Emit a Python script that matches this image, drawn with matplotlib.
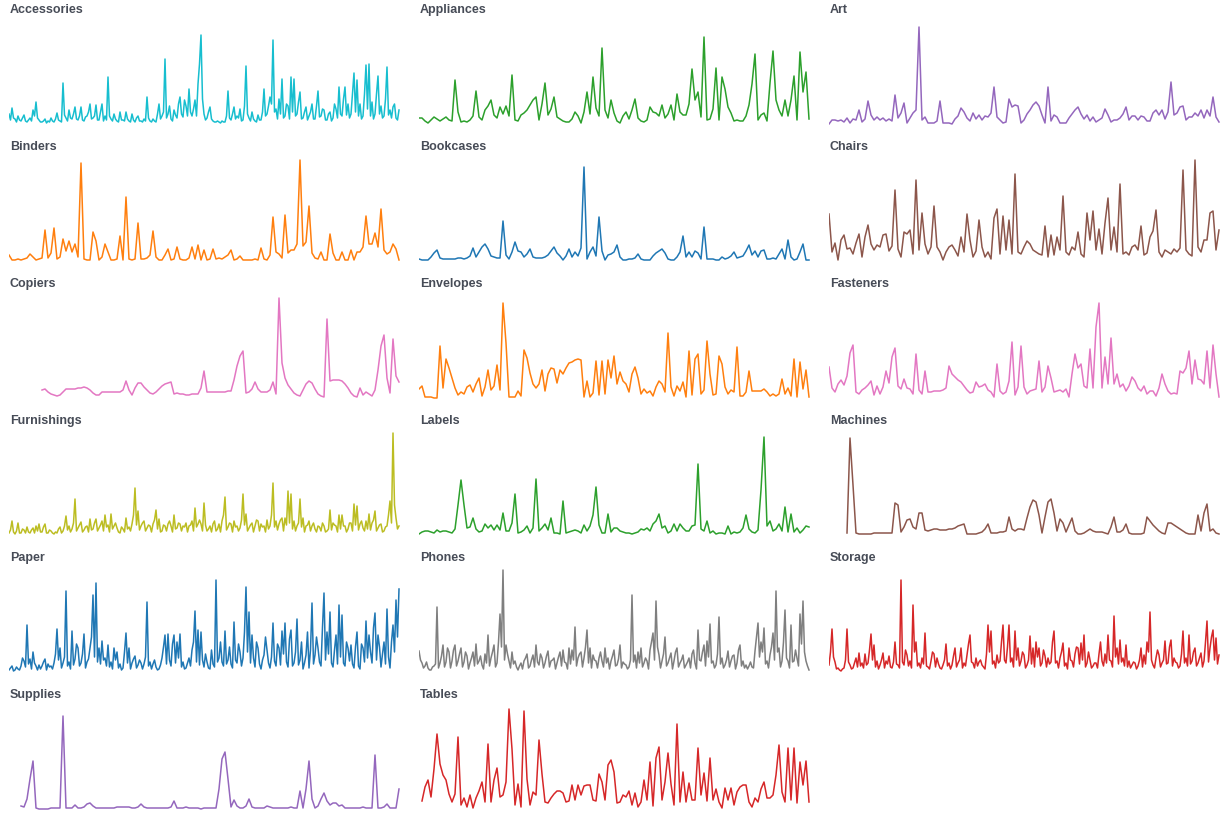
import matplotlib.pyplot as plt
import numpy as np

# Sales by sub-category on a shared time axis (slot 0 = first order date,
# slot ~130.7 = last order date). Dense series are sampled twice as often.
# Values are relative sales, read off each small multiple.

accessories = [10, 4, 16, 6, 5, 2, 8, 4, 3, 6, 9, 3, 2, 4, 6, 3, 14, 8, 22, 6,
               4, 2, 2, 3, 5, 1, 3, 2, 6, 3, 2, 5, 11, 4, 3, 2, 41, 9, 6, 3,
               14, 6, 5, 10, 17, 5, 4, 8, 17, 4, 3, 7, 8, 12, 20, 5, 6, 8, 19, 4,
               4, 12, 20, 3, 8, 4, 47, 8, 5, 3, 10, 5, 3, 2, 12, 4, 4, 3, 12, 5,
               3, 2, 10, 4, 2, 6, 8, 3, 3, 2, 5, 3, 27, 6, 3, 2, 5, 3, 2, 10,
               20, 5, 8, 12, 65, 6, 10, 18, 5, 3, 14, 9, 6, 20, 27, 10, 7, 24, 18, 8,
               35, 12, 8, 15, 24, 8, 40, 60, 89, 25, 10, 4, 6, 12, 17, 5, 3, 2, 2, 3,
               2, 1, 3, 2, 2, 8, 33, 6, 4, 10, 17, 5, 8, 6, 15, 3, 4, 18, 58, 10,
               6, 3, 12, 5, 3, 2, 9, 4, 4, 12, 35, 8, 10, 18, 27, 20, 84, 12, 15, 5,
               25, 10, 45, 6, 8, 20, 18, 5, 47, 12, 45, 8, 10, 22, 32, 5, 6, 12, 17, 4,
               8, 12, 20, 5, 5, 18, 33, 7, 8, 15, 14, 4, 4, 10, 12, 3, 6, 20, 15, 6,
               37, 10, 8, 25, 37, 9, 20, 6, 10, 30, 51, 12, 44, 8, 20, 5, 8, 30, 59, 15,
               60, 8, 22, 5, 10, 30, 48, 10, 18, 6, 8, 25, 57, 9, 14, 6, 17, 20, 6, 4, 14]

appliances = [6, 6, 3, 1, 4, 7, 5, 3, 5, 7,
              4, 3, 44, 12, 2, 3, 2, 4, 8, 33,
              7, 4, 14, 18, 24, 9, 6, 17, 10, 18,
              8, 49, 4, 3, 9, 11, 14, 19, 24, 27,
              4, 20, 41, 9, 15, 27, 7, 5, 3, 2,
              2, 5, 12, 8, 1, 12, 32, 10, 47, 16,
              8, 76, 14, 6, 24, 11, 3, 1, 8, 12,
              5, 14, 25, 6, 3, 2, 4, 17, 12, 11,
              8, 19, 6, 10, 19, 4, 30, 12, 9, 9,
              20, 55, 24, 32, 7, 87, 4, 5, 15, 56,
              4, 47, 35, 17, 11, 3, 4, 3, 3, 8,
              19, 40, 70, 4, 9, 11, 3, 41, 73, 24,
              14, 8, 24, 8, 24, 48, 4, 72, 32, 52, 5]

art = [0, 4, 4, 3, 4, 2, 6, 1, 5, 4,
       14, 2, 5, 23, 9, 4, 7, 4, 6, 3,
       5, 3, 29, 6, 11, 21, 1, 6, 11, 14,
       97, 4, 7, 1, 1, 1, 3, 23, 1, 1,
       1, 0, 5, 8, 16, 12, 6, 3, 11, 5,
       9, 4, 8, 7, 11, 37, 7, 4, 1, 2,
       25, 17, 19, 18, 1, 4, 10, 14, 19, 22,
       18, 9, 1, 37, 3, 9, 7, 1, 1, 1,
       6, 10, 14, 17, 10, 5, 9, 3, 7, 2,
       4, 6, 15, 9, 2, 4, 4, 6, 10, 17,
       4, 8, 8, 4, 8, 7, 3, 3, 11, 14,
       9, 14, 5, 12, 42, 9, 11, 17, 18, 4,
       7, 7, 11, 8, 14, 6, 14, 8, 27, 7, 2]

binders = [6, 1, 1, 2, 1, 2, 3, 7, 4, 1,
           2, 3, 31, 3, 8, 33, 2, 4, 22, 10,
           20, 9, 17, 4, 98, 2, 1, 1, 29, 20,
           1, 4, 17, 9, 1, 1, 2, 25, 1, 64,
           2, 1, 2, 38, 2, 2, 3, 6, 30, 4,
           1, 1, 6, 12, 1, 2, 14, 2, 1, 1,
           3, 14, 2, 16, 1, 11, 1, 2, 12, 2,
           3, 2, 4, 6, 11, 1, 2, 5, 1, 1,
           1, 1, 2, 1, 13, 2, 1, 6, 44, 9,
           7, 3, 46, 8, 11, 11, 17, 101, 15, 19,
           55, 8, 3, 2, 9, 1, 1, 27, 8, 1,
           1, 9, 1, 1, 11, 1, 9, 9, 14, 45,
           17, 17, 28, 14, 52, 11, 7, 9, 17, 12, 1]

bookcases = [2, 1, 1, 1, 4, 8, 11, 3, 2, 2,
             2, 2, 2, 3, 3, 2, 3, 5, 13, 4,
             9, 14, 17, 12, 5, 4, 3, 3, 40, 6,
             2, 9, 19, 10, 9, 4, 7, 12, 4, 3,
             3, 3, 4, 6, 10, 14, 8, 5, 1, 5,
             12, 4, 9, 5, 13, 94, 2, 9, 14, 5,
             44, 10, 1, 6, 7, 9, 16, 4, 1, 1,
             2, 2, 3, 7, 2, 1, 1, 1, 5, 8,
             10, 12, 8, 2, 1, 1, 4, 9, 25, 4,
             9, 4, 10, 8, 2, 34, 2, 2, 2, 1,
             1, 4, 2, 3, 5, 9, 3, 4, 5, 10,
             16, 6, 10, 4, 10, 11, 2, 2, 3, 2,
             7, 12, 2, 21, 4, 1, 2, 9, 17, 1, 1]

chairs = [47, 9, 18, 1, 21, 26, 12, 13, 7, 18,
          27, 4, 24, 36, 17, 11, 16, 14, 26, 27,
          10, 15, 71, 12, 4, 29, 27, 31, 7, 81,
          11, 48, 17, 7, 14, 55, 14, 9, 1, 9,
          14, 16, 11, 5, 24, 9, 47, 21, 4, 10,
          41, 14, 4, 9, 2, 43, 52, 7, 45, 11,
          41, 7, 87, 9, 7, 14, 20, 17, 11, 9,
          7, 6, 35, 4, 26, 6, 24, 11, 65, 9,
          6, 14, 11, 29, 7, 4, 48, 21, 50, 11,
          32, 7, 38, 63, 11, 34, 9, 77, 7, 9,
          6, 14, 16, 11, 35, 6, 8, 24, 30, 51,
          9, 4, 11, 9, 7, 12, 9, 13, 91, 11,
          7, 5, 101, 14, 9, 21, 21, 48, 50, 11, 31]

copiers = [8, 9, 6, 4, 3, 2, 3, 6, 9, 9,
           9, 9, 10, 10, 11, 10, 8, 5, 3, 3,
           6, 6, 6, 6, 6, 6, 6, 8, 17, 8,
           3, 10, 15, 15, 11, 8, 5, 4, 6, 9,
           12, 14, 15, 16, 4, 5, 4, 4, 3, 3,
           4, 4, 4, 10, 27, 6, 6, 6, 6, 6,
           6, 6, 7, 7, 18, 32, 42, 47, 5, 6,
           9, 16, 9, 6, 6, 6, 8, 16, 4, 100,
           35, 20, 13, 9, 5, 3, 2, 8, 14, 17,
           15, 9, 4, 2, 1, 79, 17, 18, 18, 18,
           17, 14, 10, 5, 2, 1, 10, 3, 6, 4,
           2, 8, 28, 52, 63, 20, 5, 59, 22, 16]

envelopes = [9, 12, 1, 1, 1, 0, 0, 52, 10, 39,
             30, 20, 10, 3, 6, 4, 11, 13, 6, 14,
             20, 2, 11, 28, 8, 12, 33, 8, 95, 55,
             1, 1, 1, 7, 2, 48, 40, 25, 14, 10,
             14, 28, 7, 24, 30, 29, 15, 28, 24, 30,
             35, 36, 38, 39, 38, 1, 17, 1, 5, 37,
             3, 37, 4, 38, 20, 42, 14, 26, 17, 14,
             6, 24, 31, 20, 4, 9, 5, 7, 2, 11,
             17, 14, 6, 65, 11, 2, 12, 7, 16, 1,
             47, 3, 39, 44, 4, 8, 57, 24, 3, 4,
             42, 34, 11, 4, 8, 6, 51, 2, 2, 6,
             27, 7, 7, 7, 7, 9, 6, 2, 4, 2,
             4, 19, 4, 10, 2, 39, 1, 36, 9, 28, 1]

fasteners = [31, 10, 6, 14, 18, 13, 22, 45, 53, 6,
             4, 8, 10, 13, 17, 3, 12, 4, 11, 27,
             15, 41, 50, 12, 9, 19, 10, 9, 4, 44,
             8, 4, 27, 6, 6, 7, 7, 7, 8, 10,
             32, 24, 21, 18, 16, 12, 8, 5, 6, 16,
             11, 12, 14, 8, 6, 1, 34, 7, 4, 6,
             17, 56, 3, 11, 52, 11, 4, 7, 8, 9,
             37, 6, 11, 32, 20, 6, 7, 8, 6, 9,
             1, 24, 44, 30, 34, 12, 10, 49, 10, 71,
             95, 10, 41, 14, 60, 14, 24, 11, 14, 7,
             12, 21, 17, 10, 7, 12, 4, 7, 7, 2,
             10, 24, 14, 7, 4, 5, 4, 27, 25, 30,
             47, 14, 38, 19, 18, 14, 47, 10, 53, 24, 1]

furnishings = [2, 5, 14, 3, 1, 4, 12, 2, 2, 6, 5, 2, 8, 3, 2, 5, 7, 2, 9, 4,
               11, 3, 3, 8, 11, 2, 2, 5, 4, 2, 1, 3, 2, 6, 8, 2, 4, 9, 19, 5,
               9, 3, 6, 12, 36, 4, 7, 10, 13, 3, 5, 8, 9, 3, 16, 5, 6, 12, 16, 4,
               7, 10, 14, 4, 20, 8, 10, 3, 21, 6, 9, 12, 7, 3, 2, 8, 6, 3, 17, 6,
               8, 4, 11, 20, 47, 10, 24, 5, 9, 12, 14, 4, 7, 10, 9, 3, 11, 15, 25, 6,
               16, 3, 4, 10, 9, 4, 11, 14, 9, 3, 20, 6, 7, 12, 11, 4, 9, 8, 12, 3,
               9, 10, 14, 4, 27, 8, 11, 15, 11, 4, 32, 10, 4, 6, 9, 3, 11, 14, 4, 6,
               11, 3, 14, 20, 38, 5, 8, 12, 11, 3, 14, 8, 9, 4, 7, 15, 41, 10, 21, 4,
               7, 10, 12, 3, 9, 15, 14, 4, 11, 8, 9, 3, 15, 6, 9, 20, 52, 8, 14, 5,
               11, 15, 17, 4, 17, 10, 44, 12, 41, 6, 14, 4, 9, 12, 36, 8, 17, 3, 9, 10,
               14, 4, 9, 12, 6, 3, 9, 8, 4, 12, 9, 3, 4, 6, 25, 5, 12, 10, 9, 3,
               20, 6, 20, 9, 9, 3, 6, 12, 12, 4, 31, 10, 29, 5, 11, 14, 7, 4, 14, 6,
               21, 5, 12, 15, 24, 4, 7, 10, 11, 3, 4, 8, 9, 20, 34, 12, 102, 30, 17, 6, 9]

labels = [1, 3, 4, 4, 3, 2, 5, 3, 4, 4,
          3, 2, 6, 30, 55, 30, 7, 8, 17, 6,
          3, 4, 11, 7, 10, 5, 10, 5, 22, 4,
          4, 12, 41, 2, 3, 5, 9, 2, 7, 56,
          4, 7, 11, 5, 17, 2, 2, 1, 34, 2,
          3, 4, 5, 4, 2, 10, 4, 9, 20, 48,
          10, 2, 2, 21, 3, 7, 7, 4, 3, 2,
          2, 1, 2, 3, 6, 5, 7, 4, 11, 14,
          21, 7, 9, 2, 4, 11, 4, 11, 7, 4,
          4, 9, 10, 71, 6, 4, 14, 2, 4, 1,
          2, 2, 1, 9, 1, 3, 2, 3, 7, 20,
          6, 3, 2, 5, 45, 98, 9, 14, 4, 6,
          11, 4, 28, 3, 21, 3, 7, 2, 5, 9, 8]

machines = [2, 97, 50, 2, 1, 1, 1, 1, 1, 2,
            2, 2, 2, 2, 2, 2, 32, 30, 3, 8,
            15, 16, 8, 6, 22, 22, 5, 4, 5, 6,
            6, 5, 5, 5, 6, 6, 7, 9, 10, 11,
            1, 1, 1, 1, 2, 3, 6, 11, 2, 2,
            2, 3, 3, 4, 18, 6, 4, 6, 6, 5,
            17, 28, 35, 33, 20, 2, 18, 33, 36, 22,
            4, 16, 12, 3, 10, 17, 4, 1, 1, 2,
            4, 6, 4, 3, 3, 3, 2, 1, 8, 18,
            3, 3, 5, 11, 2, 1, 1, 1, 1, 2,
            18, 14, 10, 7, 4, 2, 1, 12, 12, 10,
            8, 6, 4, 2, 1, 1, 1, 20, 4, 22,
            31, 4, 6, 2, 1]

paper = [2, 4, 6, 1, 2, 5, 3, 2, 6, 14, 11, 5, 47, 8, 13, 3, 20, 9, 6, 2,
         7, 3, 6, 10, 13, 2, 8, 5, 6, 3, 9, 18, 43, 12, 24, 4, 9, 15, 81, 6,
         10, 3, 41, 7, 13, 28, 24, 6, 9, 18, 38, 4, 10, 13, 24, 35, 77, 15, 89, 10,
         24, 8, 31, 12, 14, 6, 27, 5, 10, 3, 24, 12, 20, 4, 8, 2, 4, 20, 39, 9,
         24, 3, 9, 13, 16, 4, 7, 12, 9, 3, 8, 15, 70, 6, 10, 3, 8, 12, 5, 2,
         3, 7, 14, 25, 37, 8, 38, 12, 6, 28, 37, 9, 30, 14, 38, 5, 10, 3, 4, 9,
         14, 6, 22, 30, 61, 10, 42, 7, 40, 12, 5, 18, 10, 4, 3, 22, 8, 5, 92, 10,
         14, 30, 10, 6, 41, 8, 12, 25, 8, 4, 50, 12, 9, 28, 20, 6, 14, 40, 85, 20,
         60, 9, 37, 14, 5, 30, 24, 8, 3, 12, 17, 35, 22, 9, 4, 15, 49, 11, 6, 28,
         24, 7, 41, 18, 49, 10, 5, 33, 42, 6, 9, 20, 53, 7, 12, 30, 3, 9, 17, 40,
         4, 22, 69, 8, 17, 35, 24, 10, 6, 45, 79, 12, 40, 18, 60, 9, 5, 22, 37, 8,
         67, 15, 57, 9, 6, 30, 24, 11, 27, 8, 4, 25, 40, 6, 3, 28, 24, 10, 51, 14,
         37, 20, 9, 44, 59, 12, 37, 25, 5, 18, 30, 8, 63, 15, 4, 30, 47, 20, 72, 35, 83]

phones = [21, 12, 9, 4, 6, 10, 4, 2, 2, 5, 6, 8, 65, 4, 9, 16, 27, 5, 10, 24,
          20, 4, 11, 22, 27, 6, 11, 18, 24, 5, 10, 20, 16, 3, 9, 14, 20, 6, 28, 8,
          11, 16, 7, 3, 18, 9, 37, 6, 14, 20, 27, 5, 9, 30, 58, 25, 102, 12, 27, 18,
          11, 4, 20, 8, 11, 5, 2, 6, 9, 3, 11, 14, 18, 4, 6, 12, 17, 5, 27, 10,
          7, 18, 14, 4, 9, 16, 21, 5, 11, 12, 14, 3, 9, 15, 20, 6, 22, 10, 9, 3,
          24, 8, 22, 12, 45, 6, 14, 18, 20, 5, 14, 25, 42, 9, 24, 4, 17, 12, 11, 4,
          14, 20, 11, 5, 24, 9, 14, 3, 11, 16, 22, 6, 7, 13, 27, 4, 10, 8, 7, 3,
          5, 12, 77, 10, 17, 4, 20, 9, 24, 5, 9, 14, 11, 3, 22, 30, 39, 12, 71, 25,
          17, 4, 11, 18, 35, 6, 9, 14, 19, 3, 11, 20, 24, 5, 9, 12, 17, 4, 7, 10,
          14, 4, 18, 22, 9, 3, 42, 12, 11, 20, 27, 6, 31, 15, 48, 9, 11, 4, 7, 18,
          55, 8, 14, 4, 7, 12, 21, 5, 11, 16, 17, 3, 9, 22, 27, 6, 11, 4, 7, 3,
          6, 10, 5, 4, 21, 35, 49, 15, 30, 20, 44, 8, 11, 4, 17, 25, 39, 12, 81, 20,
          24, 5, 11, 30, 62, 14, 11, 4, 47, 10, 11, 22, 14, 6, 58, 28, 71, 20, 11, 6, 2]

storage = [7, 20, 43, 15, 10, 3, 4, 2, 1, 3, 4, 12, 43, 10, 7, 3, 4, 9, 14, 5,
           19, 6, 9, 4, 18, 7, 9, 22, 38, 12, 27, 5, 11, 3, 7, 12, 19, 4, 11, 8,
           16, 5, 4, 10, 30, 8, 7, 4, 92, 10, 7, 22, 17, 6, 11, 4, 67, 20, 30, 6,
           9, 4, 14, 8, 39, 6, 5, 3, 11, 20, 18, 5, 14, 8, 4, 3, 7, 12, 28, 6,
           9, 3, 7, 16, 24, 5, 9, 12, 24, 4, 9, 6, 17, 28, 37, 10, 9, 4, 14, 6,
           10, 12, 7, 5, 3, 18, 47, 20, 41, 8, 11, 4, 17, 9, 11, 30, 47, 12, 9, 25,
           47, 10, 14, 5, 41, 12, 24, 6, 11, 20, 17, 4, 7, 12, 36, 8, 24, 5, 30, 15,
           24, 6, 9, 22, 16, 5, 14, 8, 10, 30, 41, 9, 11, 4, 14, 20, 29, 6, 9, 3,
           24, 12, 11, 5, 18, 25, 24, 8, 29, 12, 37, 5, 9, 20, 12, 4, 6, 9, 9, 4,
           18, 30, 11, 6, 18, 9, 37, 12, 11, 5, 56, 15, 24, 8, 32, 10, 14, 6, 27, 5,
           11, 4, 7, 10, 9, 3, 6, 12, 24, 5, 17, 8, 30, 20, 60, 12, 7, 4, 14, 22,
           17, 5, 9, 12, 31, 8, 9, 25, 32, 6, 14, 10, 9, 4, 6, 18, 41, 9, 14, 6,
           37, 8, 11, 20, 24, 6, 9, 14, 19, 5, 11, 30, 51, 10, 24, 35, 42, 12, 34, 8, 17]

supplies = [3, 2, 10, 30, 48, 1, 0, 0, 0, 0,
            1, 1, 1, 1, 93, 1, 1, 1, 4, 1,
            1, 2, 5, 6, 3, 1, 1, 1, 1, 1,
            1, 1, 2, 2, 2, 2, 2, 1, 1, 2,
            5, 2, 1, 1, 1, 1, 1, 1, 1, 1,
            2, 8, 1, 1, 1, 2, 1, 1, 1, 1,
            0, 1, 1, 1, 1, 1, 20, 50, 57, 30,
            2, 9, 3, 1, 1, 3, 10, 2, 1, 1,
            1, 1, 3, 2, 1, 1, 1, 1, 1, 1,
            2, 1, 1, 18, 1, 20, 48, 10, 1, 3,
            10, 16, 8, 4, 6, 6, 3, 4, 1, 1,
            1, 1, 1, 1, 2, 1, 1, 1, 54, 1,
            1, 2, 5, 1, 1, 1, 20]

tables = [8, 22, 29, 12, 40, 75, 45, 34, 29, 15,
          7, 15, 72, 4, 11, 2, 14, 1, 11, 18,
          27, 7, 65, 7, 29, 41, 12, 14, 27, 100,
          60, 4, 25, 2, 98, 30, 4, 17, 14, 69,
          35, 7, 6, 11, 15, 18, 18, 16, 7, 8,
          24, 9, 24, 14, 23, 24, 24, 9, 8, 35,
          27, 9, 44, 49, 37, 6, 7, 14, 12, 18,
          4, 16, 2, 7, 29, 9, 47, 3, 51, 62,
          9, 27, 56, 25, 4, 85, 7, 37, 7, 26,
          9, 9, 61, 14, 36, 8, 51, 9, 20, 7,
          1, 21, 9, 21, 4, 17, 22, 24, 24, 7,
          2, 11, 7, 20, 27, 11, 11, 14, 34, 64,
          17, 7, 61, 9, 61, 6, 47, 24, 48, 7]

names = ["Accessories", "Appliances", "Art", "Binders", "Bookcases", "Chairs",
         "Copiers", "Envelopes", "Fasteners", "Furnishings", "Labels", "Machines",
         "Paper", "Phones", "Storage", "Supplies", "Tables"]
series = [accessories, appliances, art, binders, bookcases, chairs,
          copiers, envelopes, fasteners, furnishings, labels, machines,
          paper, phones, storage, supplies, tables]
# first sample slot of each series (some sub-categories start selling later)
first_slot = [0, 0, 0, 0, 0, 0, 11, 0, 0, 0, 0, 6, 0, 0, 0, 4, 1]
# slots between consecutive samples
step = [0.5, 1, 1, 1, 1, 1, 1, 1, 1, 0.5, 1, 1, 0.5, 0.5, 0.5, 1, 1]
colors = ["#17becf", "#2ca02c", "#9467bd", "#ff7f0e", "#1f77b4", "#8c564b",
          "#e377c2", "#ff7f0e", "#e377c2", "#bcbd22", "#2ca02c", "#8c564b",
          "#1f77b4", "#7f7f7f", "#d62728", "#9467bd", "#d62728"]

W, H = 1231, 821
fig = plt.figure(figsize=(W / 100, H / 100), dpi=100)

for i, name in enumerate(names):
    r, c = divmod(i, 3)
    left = 9 + 410 * c
    top = 137 * r + 20
    ax = fig.add_axes([left / W, 1 - (top + 105) / H, 392 / W, 105 / H])
    y = np.array(series[i])
    x = first_slot[i] + np.arange(len(y)) * step[i]
    ax.plot(x, y, color=colors[i], lw=1.1, solid_joinstyle="round")
    ax.set_xlim(0, 392 / 3)
    ax.set_ylim(-1, 104)
    ax.axis("off")
    fig.text((10 + 410 * c) / W, 1 - (137 * r + 13) / H, name,
             fontsize=9, fontweight="bold", color="#474c57",
             family="Liberation Sans", ha="left", va="baseline")

fig.savefig("out.png", dpi=100)
